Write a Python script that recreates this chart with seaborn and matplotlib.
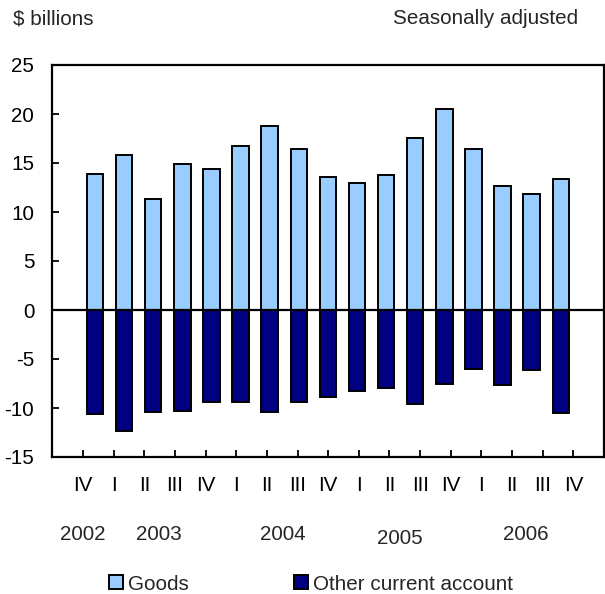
import matplotlib
matplotlib.use("Agg")
import matplotlib.pyplot as plt
from matplotlib.patches import Patch
import seaborn as sns
import pandas as pd
import numpy as np

# ---- data ----
periods = ["2002 IV", "2003 I", "2003 II", "2003 III", "2003 IV",
           "2004 I", "2004 II", "2004 III", "2004 IV",
           "2005 I", "2005 II", "2005 III", "2005 IV",
           "2006 I", "2006 II", "2006 III", "2006 IV"]
quarter_labels = ["IV", "I", "II", "III", "IV", "I", "II", "III", "IV",
                  "I", "II", "III", "IV", "I", "II", "III", "IV"]
goods = [13.9, 15.8, 11.3, 14.9, 14.4, 16.7, 18.8, 16.4, 13.6,
         13.0, 13.8, 17.6, 20.5, 16.4, 12.7, 11.8, 13.4]
other = [-10.6, -12.3, -10.4, -10.3, -9.4, -9.4, -10.4, -9.4, -8.9,
         -8.3, -8.0, -9.6, -7.6, -6.0, -7.7, -6.1, -10.5]
years = ["2002", "2003", "2004", "2005", "2006"]
series_names = ["Goods", "Other current account"]
y_ticks = [-15, -10, -5, 0, 5, 10, 15, 20, 25]

df = pd.DataFrame({
    "period": periods * 2,
    "value": goods + other,
    "series": [series_names[0]] * len(goods) + [series_names[1]] * len(other),
})

colors = {"Goods": "#99CCFF", "Other current account": "#000080"}

sns.set_style("white")
plt.rcParams["font.family"] = ["Liberation Sans", "DejaVu Sans"]
FS = 14.9

W, H = 605, 594
fig = plt.figure(figsize=(W / 100, H / 100), dpi=100)
L, R, T, B = 52.3, 604, 65, 457
ax = fig.add_axes([L / W, (H - B) / H, (R - L) / W, (B - T) / H])

sns.barplot(data=df, x="period", y="value", hue="series", order=periods,
            hue_order=series_names, palette=colors, dodge=False,
            saturation=1, width=0.567, edgecolor="black", linewidth=1.4,
            errorbar=None, legend=False, ax=ax)

# axis ranges
bar_px = 29.11
xmin = -(95 - L) / bar_px
xmax = (len(periods) - 1) + (R - 560.8) / bar_px
ax.set_xlim(xmin, xmax)
ax.set_ylim(-15, 25)

ax.axhline(0, color="black", lw=1.6, zorder=3)

# ticks
nslots = 18
xt = [xmin + (xmax - xmin) * k / nslots for k in range(1, nslots)]
ax.set_xticks(xt)
ax.set_xticklabels(quarter_labels, fontsize=FS)
ax.set_yticks(y_ticks)
ax.set_yticklabels([str(v) for v in y_ticks], fontsize=FS)
ax.tick_params(axis="x", direction="in", length=5, width=1.3, pad=14,
               bottom=True, top=False, colors="black")
ax.tick_params(axis="y", direction="in", length=5, width=1.3, pad=13,
               left=True, right=False, colors="black")
ax.set_xlabel("")
ax.set_ylabel("")

for s in ax.spines.values():
    s.set_visible(True)
    s.set_color("black")
    s.set_linewidth(1.6)

# year labels
year_px = [83, 159, 283, 400, 525.5]
year_py = [534, 534, 534, 538, 534]
for yr, px, py in zip(years, year_px, year_py):
    fig.text(px / W, 1 - py / H, yr, ha="center", va="center", fontsize=FS)

# header texts
fig.text(12.7 / W, 1 - 19 / H, "\\$ billions", ha="left", va="center", fontsize=FS)
fig.text(578 / W, 1 - 19 / H, "Seasonally adjusted", ha="right", va="center", fontsize=FS)

# legend
handles = [Patch(facecolor=colors[n], edgecolor="black", linewidth=1.4) for n in series_names]
fig.legend(handles=handles, labels=series_names, ncol=2, loc="center left",
           bbox_to_anchor=(109 / W, 1 - 584 / H), frameon=False,
           handlelength=0.66, handleheight=0.66, handletextpad=0.25,
           columnspacing=5.1, borderaxespad=0, borderpad=0, fontsize=FS)

fig.savefig("out.png", dpi=100)
